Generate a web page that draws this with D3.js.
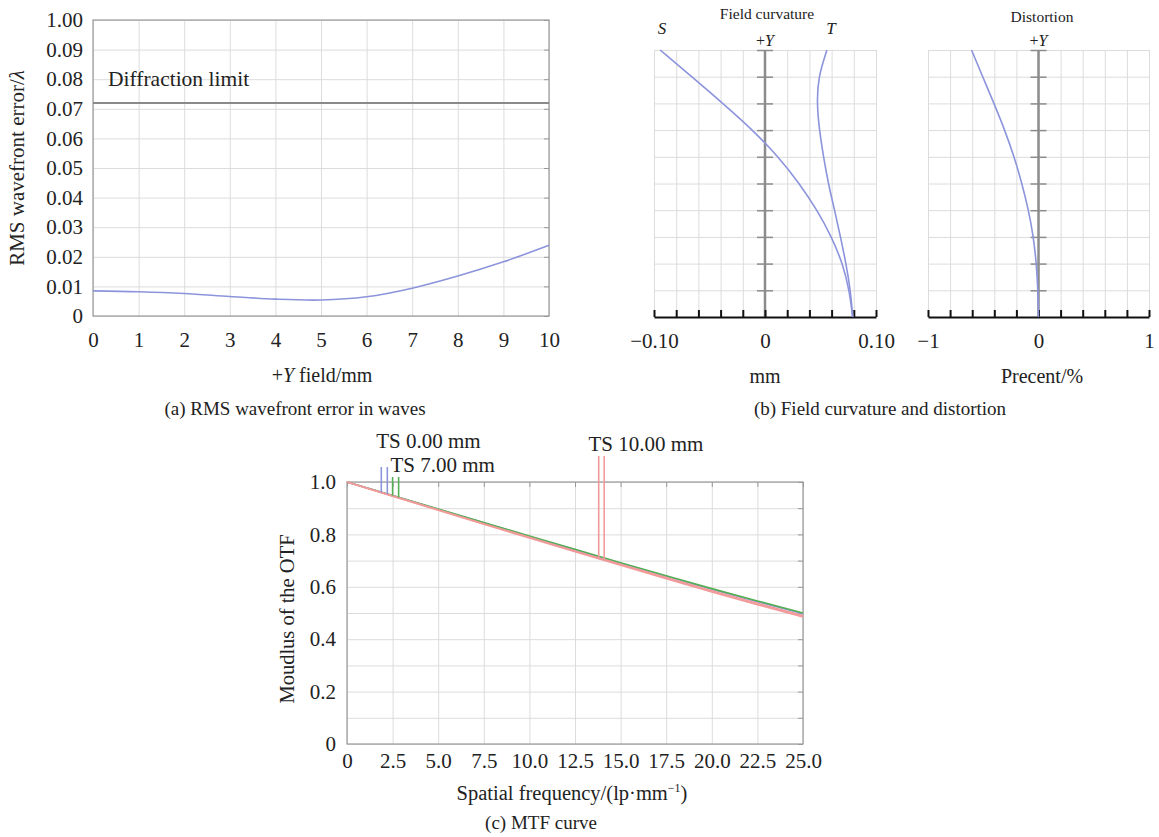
<!DOCTYPE html>
<html>
<head>
<meta charset="utf-8">
<script src="https://cdn.jsdelivr.net/npm/d3@7"></script>
<style>
body { margin: 0; background: #fff; }
text { font-family: "Liberation Serif", "Times New Roman", serif; fill: #222; }
.grid line { stroke: #dcdcdc; stroke-width: 1; }
.grid path { display: none; }
</style>
</head>
<body>
<svg id="chart" width="1159" height="837"></svg>
<script>
// (a) RMS wavefront error vs +Y field
var rmsField = [0, 1, 2, 3, 4, 5, 6, 7, 8, 9, 10];
var rmsError = [0.0085, 0.0082, 0.0076, 0.0066, 0.0057, 0.0054, 0.0065, 0.0094, 0.0135, 0.0183, 0.0239];
var rmsYTicks = [0, 0.01, 0.02, 0.03, 0.04, 0.05, 0.06, 0.07, 0.08, 0.09, 0.10];
var rmsYLabels = ["0", "0.01", "0.02", "0.03", "0.04", "0.05", "0.06", "0.07", "0.08", "0.09", "1.00"];
var diffractionLimit = 0.072;

// (b) field curvature (mm) and distortion (%) vs field
var fcField = [0, 1, 2, 3, 4, 5, 6, 7, 8, 9, 10];
var fcSagittal = [0.079, 0.076, 0.070, 0.060, 0.047, 0.031, 0.012, -0.011, -0.038, -0.066, -0.0945];
var fcTangential = [0.079, 0.077, 0.073, 0.068, 0.0627, 0.057, 0.0527, 0.049, 0.0467, 0.048, 0.0558];
var fcGridTicks = [-0.1, -0.08, -0.06, -0.04, -0.02, 0, 0.02, 0.04, 0.06, 0.08, 0.1];
var fcLabelTicks = [-0.1, 0, 0.1];
var fcLabels = ["\u22120.10", "0", "0.10"];
var distortion = [0, -0.005, -0.019, -0.046, -0.090, -0.150, -0.220, -0.305, -0.403, -0.505, -0.606];
var distGridTicks = [-1, -0.8, -0.6, -0.4, -0.2, 0, 0.2, 0.4, 0.6, 0.8, 1];
var distLabelTicks = [-1, 0, 1];
var distLabels = ["\u22121", "0", "1"];

// (c) MTF
var mtfFreq = [0, 2.5, 5, 7.5, 10, 12.5, 15, 17.5, 20, 22.5, 25];
var mtfTS0 = [1.0, 0.948, 0.896, 0.844, 0.792, 0.741, 0.690, 0.640, 0.591, 0.543, 0.497];
var mtfTS7 = [1.0, 0.948, 0.897, 0.845, 0.794, 0.743, 0.692, 0.642, 0.593, 0.546, 0.500];
var mtfTS10T = [1.0, 0.947, 0.894, 0.841, 0.789, 0.737, 0.686, 0.635, 0.585, 0.537, 0.490];
var mtfTS10S = [1.0, 0.946, 0.892, 0.839, 0.786, 0.734, 0.682, 0.631, 0.580, 0.532, 0.485];
var mtfXLabels = ["0", "2.5", "5.0", "7.5", "10.0", "12.5", "15.0", "17.5", "20.0", "22.5", "25.0"];
var mtfYGrid = [0, 0.1, 0.2, 0.3, 0.4, 0.5, 0.6, 0.7, 0.8, 0.9, 1.0];
var mtfYTicks = [0, 0.2, 0.4, 0.6, 0.8, 1.0];
var mtfYLabels = ["0", "0.2", "0.4", "0.6", "0.8", "1.0"];
var legendNames = ["TS 0.00 mm", "TS 7.00 mm", "TS 10.00 mm"];
var legendMarkFreq = [[1.88, 2.21], [2.5, 2.83], [13.8, 14.1]];
var legendMarkTop = [1.057, 1.019, 1.099];
var legendTextFreq = [1.6, 2.38, 13.24];
var legendTextVal = [1.13, 1.037, 1.12];

var blue = "#8c94dc", green = "#55b055", red = "#f29a9a";
var serif = '"Liberation Serif", "Times New Roman", serif';
var tickFont = 21;

var svg = d3.select("#chart");
svg.append("rect").attr("width", 1159).attr("height", 837).attr("fill", "#fff");

function styleAxis(g, size) {
  g.attr("font-family", serif).attr("font-size", size);
  g.select(".domain").remove();
  g.selectAll("text").attr("fill", "#222");
}

// ---------------- (a) ----------------
var a = { left: 93, right: 549, top: 20, bottom: 316 };
var ax = d3.scaleLinear().domain([0, 10]).range([a.left, a.right]);
var ay = d3.scaleLinear().domain([0, 0.1]).range([a.bottom, a.top]);

svg.append("g").attr("class", "grid").attr("transform", "translate(0," + a.bottom + ")")
  .call(d3.axisBottom(ax).tickValues(rmsField).tickSize(-(a.bottom - a.top)).tickFormat(""));
svg.append("g").attr("class", "grid").attr("transform", "translate(" + a.left + ",0)")
  .call(d3.axisLeft(ay).tickValues(rmsYTicks).tickSize(-(a.right - a.left)).tickFormat(""));
// small ticks on right border
svg.append("g").attr("transform", "translate(" + a.right + ",0)")
  .call(d3.axisRight(ay).tickValues(rmsYTicks).tickSize(-5).tickFormat(""))
  .call(function (g) { g.select(".domain").remove(); g.selectAll("line").attr("stroke", "#999"); });

svg.append("rect").attr("x", a.left).attr("y", a.top)
  .attr("width", a.right - a.left).attr("height", a.bottom - a.top)
  .attr("fill", "none").attr("stroke", "#9a9a9a").attr("stroke-width", 1.2);

svg.append("g").attr("transform", "translate(0," + a.bottom + ")")
  .call(d3.axisBottom(ax).tickValues(rmsField).tickSize(0).tickPadding(16).tickFormat(d3.format("d")))
  .call(function (g) { styleAxis(g, tickFont); });
svg.append("g").attr("transform", "translate(" + a.left + ",0)")
  .call(d3.axisLeft(ay).tickValues(rmsYTicks).tickSize(0).tickPadding(10)
    .tickFormat(function (d, i) { return rmsYLabels[i]; }))
  .call(function (g) { styleAxis(g, tickFont); });

svg.append("line").attr("x1", a.left).attr("x2", a.right)
  .attr("y1", ay(diffractionLimit)).attr("y2", ay(diffractionLimit))
  .attr("stroke", "#8a8a8a").attr("stroke-width", 2);
svg.append("text").attr("x", 108).attr("y", 86).attr("font-size", 21.5).text("Diffraction limit");

svg.append("path").datum(rmsField)
  .attr("fill", "none").attr("stroke", blue).attr("stroke-width", 1.6)
  .attr("d", d3.line().curve(d3.curveCatmullRom)
    .x(function (d) { return ax(d); })
    .y(function (d, i) { return ay(rmsError[i]); }));

var ylab = svg.append("text").attr("transform", "translate(24,168) rotate(-90)")
  .attr("text-anchor", "middle").attr("font-size", 21);
ylab.append("tspan").text("RMS wavefront error/");
ylab.append("tspan").attr("font-style", "italic").text("\u03bb");

var xlab = svg.append("text").attr("x", 322).attr("y", 382).attr("text-anchor", "middle").attr("font-size", 20);
xlab.append("tspan").text("+");
xlab.append("tspan").attr("font-style", "italic").text("Y");
xlab.append("tspan").text(" field/mm");

svg.append("text").attr("x", 295).attr("y", 415).attr("text-anchor", "middle").attr("font-size", 19)
  .text("(a) RMS wavefront error in waves");

// ---------------- (b) ----------------
function fieldPanel(left, right, domain, gridTicks, labelTicks, labels) {
  var top = 50, bottom = 317;
  var x = d3.scaleLinear().domain(domain).range([left, right]);
  var y = d3.scaleLinear().domain([0, 10]).range([bottom, top]);
  svg.append("g").attr("class", "grid").attr("transform", "translate(0," + bottom + ")")
    .call(d3.axisBottom(x).tickValues(gridTicks).tickSize(-(bottom - top)).tickFormat(""));
  svg.append("g").attr("class", "grid").attr("transform", "translate(" + left + ",0)")
    .call(d3.axisLeft(y).tickValues(fcField).tickSize(-(right - left)).tickFormat(""));
  // centre +Y axis
  svg.append("line").attr("x1", x(0)).attr("x2", x(0)).attr("y1", top).attr("y2", bottom)
    .attr("stroke", "#8c8c8c").attr("stroke-width", 2.5);
  svg.append("g").attr("transform", "translate(" + (x(0) + 8) + ",0)")
    .call(d3.axisLeft(y).tickValues(fcField.slice(1)).tickSize(16).tickFormat(""))
    .call(function (g) { g.select(".domain").remove(); g.selectAll("line").attr("stroke", "#8c8c8c").attr("stroke-width", 1.5); });
  // bottom axis
  svg.append("g").attr("transform", "translate(0," + bottom + ")")
    .call(d3.axisBottom(x).tickValues(gridTicks).tickSizeInner(-7).tickSizeOuter(0).tickFormat(""))
    .call(function (g) {
      g.select(".domain").attr("stroke", "#111").attr("stroke-width", 2.2);
      g.selectAll("line").attr("stroke", "#111").attr("stroke-width", 2);
    });
  svg.append("g").attr("transform", "translate(0," + bottom + ")")
    .call(d3.axisBottom(x).tickValues(labelTicks).tickSize(0).tickPadding(16)
      .tickFormat(function (d, i) { return labels[i]; }))
    .call(function (g) { styleAxis(g, tickFont); });
  return { x: x, y: y };
}

var fc = fieldPanel(654, 876, [-0.1, 0.1], fcGridTicks, fcLabelTicks, fcLabels);
var dist = fieldPanel(928, 1149, [-1, 1], distGridTicks, distLabelTicks, distLabels);

[fcSagittal, fcTangential].forEach(function (s) {
  svg.append("path").datum(fcField)
    .attr("fill", "none").attr("stroke", blue).attr("stroke-width", 1.6)
    .attr("d", d3.line().curve(d3.curveBasis)
      .x(function (d, i) { return fc.x(s[i]); })
      .y(function (d) { return fc.y(d); }));
});
svg.append("path").datum(fcField)
  .attr("fill", "none").attr("stroke", blue).attr("stroke-width", 1.6)
  .attr("d", d3.line().curve(d3.curveBasis)
    .x(function (d, i) { return dist.x(distortion[i]); })
    .y(function (d) { return dist.y(d); }));

svg.append("text").attr("x", 767).attr("y", 19).attr("text-anchor", "middle").attr("font-size", 15.5).text("Field curvature");
svg.append("text").attr("x", 1042).attr("y", 22).attr("text-anchor", "middle").attr("font-size", 15.5).text("Distortion");
svg.append("text").attr("x", 662).attr("y", 34).attr("text-anchor", "middle").attr("font-size", 17).attr("font-style", "italic").text("S");
svg.append("text").attr("x", 831).attr("y", 34).attr("text-anchor", "middle").attr("font-size", 17).attr("font-style", "italic").text("T");
[fc, dist].forEach(function (p) {
  var t = svg.append("text").attr("x", p.x(0)).attr("y", 46).attr("text-anchor", "middle").attr("font-size", 16);
  t.append("tspan").text("+");
  t.append("tspan").attr("font-style", "italic").text("Y");
});

svg.append("text").attr("x", 765).attr("y", 383).attr("text-anchor", "middle").attr("font-size", 20).text("mm");
svg.append("text").attr("x", 1042).attr("y", 383).attr("text-anchor", "middle").attr("font-size", 20).text("Precent/%");
svg.append("text").attr("x", 880).attr("y", 415).attr("text-anchor", "middle").attr("font-size", 19)
  .text("(b) Field curvature and distortion");

// ---------------- (c) ----------------
var c = { left: 347, right: 803, top: 482, bottom: 744 };
var mx = d3.scaleLinear().domain([0, 25]).range([c.left, c.right]);
var my = d3.scaleLinear().domain([0, 1]).range([c.bottom, c.top]);

svg.append("g").attr("class", "grid").attr("transform", "translate(0," + c.bottom + ")")
  .call(d3.axisBottom(mx).tickValues(mtfFreq).tickSize(-(c.bottom - c.top)).tickFormat(""));
svg.append("g").attr("class", "grid").attr("transform", "translate(" + c.left + ",0)")
  .call(d3.axisLeft(my).tickValues(mtfYGrid).tickSize(-(c.right - c.left)).tickFormat(""));
svg.append("g").attr("transform", "translate(0," + c.top + ")")
  .call(d3.axisTop(mx).tickValues(mtfFreq).tickSize(-5).tickFormat(""))
  .call(function (g) { g.select(".domain").remove(); g.selectAll("line").attr("stroke", "#999"); });
svg.append("g").attr("transform", "translate(" + c.right + ",0)")
  .call(d3.axisRight(my).tickValues(mtfYGrid).tickSize(-5).tickFormat(""))
  .call(function (g) { g.select(".domain").remove(); g.selectAll("line").attr("stroke", "#999"); });
svg.append("rect").attr("x", c.left).attr("y", c.top)
  .attr("width", c.right - c.left).attr("height", c.bottom - c.top)
  .attr("fill", "none").attr("stroke", "#9a9a9a").attr("stroke-width", 1.2);

svg.append("g").attr("transform", "translate(0," + c.bottom + ")")
  .call(d3.axisBottom(mx).tickValues(mtfFreq).tickSize(0).tickPadding(9)
    .tickFormat(function (d, i) { return mtfXLabels[i]; }))
  .call(function (g) { styleAxis(g, tickFont); });
svg.append("g").attr("transform", "translate(" + c.left + ",0)")
  .call(d3.axisLeft(my).tickValues(mtfYTicks).tickSize(0).tickPadding(11)
    .tickFormat(function (d, i) { return mtfYLabels[i]; }))
  .call(function (g) { styleAxis(g, tickFont); });

var mtfLine = function (s) {
  return d3.line().x(function (d) { return mx(d); }).y(function (d, i) { return my(s[i]); });
};
var mtfSeries = [[mtfTS0, blue], [mtfTS7, green], [mtfTS10T, red], [mtfTS10S, red]];
mtfSeries.forEach(function (s) {
  svg.append("path").datum(mtfFreq).attr("fill", "none")
    .attr("stroke", s[1]).attr("stroke-width", 1.6).attr("d", mtfLine(s[0]));
});

function valueAt(series, f) {
  var i = Math.min(Math.floor(f / 2.5), mtfFreq.length - 2);
  var t = (f - mtfFreq[i]) / 2.5;
  return series[i] + t * (series[i + 1] - series[i]);
}
var legendSeries = [mtfTS0, mtfTS7, mtfTS10T];
var legendColors = [blue, green, red];
legendNames.forEach(function (name, k) {
  legendMarkFreq[k].forEach(function (f) {
    svg.append("line").attr("x1", mx(f)).attr("x2", mx(f))
      .attr("y1", my(legendMarkTop[k])).attr("y2", my(valueAt(legendSeries[k], f)))
      .attr("stroke", legendColors[k]).attr("stroke-width", 1.6);
  });
  svg.append("text").attr("x", mx(legendTextFreq[k])).attr("y", my(legendTextVal[k]))
    .attr("font-size", 21).text(name);
});

svg.append("text").attr("transform", "translate(294,619) rotate(-90)")
  .attr("text-anchor", "middle").attr("font-size", 20.5).text("Moudlus of the OTF");

var fx = svg.append("text").attr("x", 572).attr("y", 800).attr("text-anchor", "middle").attr("font-size", 20.5);
fx.append("tspan").text("Spatial frequency/(lp\u00b7mm");
fx.append("tspan").attr("dy", -8).attr("font-size", 12).text("\u22121");
fx.append("tspan").attr("dy", 8).text(")");

svg.append("text").attr("x", 541).attr("y", 829).attr("text-anchor", "middle").attr("font-size", 19).text("(c) MTF curve");
</script>
</body>
</html>
